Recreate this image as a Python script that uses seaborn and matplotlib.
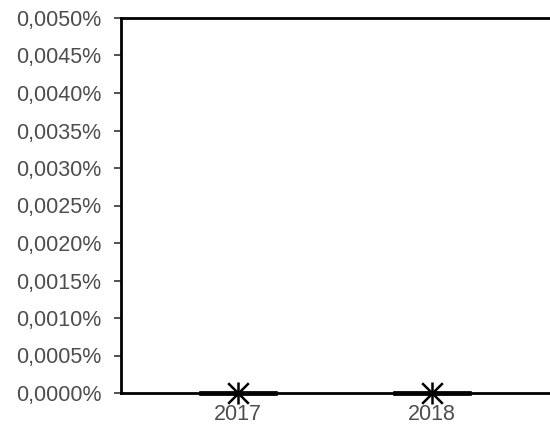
import matplotlib
matplotlib.use("Agg")
import matplotlib.pyplot as plt
import seaborn as sns
import pandas as pd
import numpy as np
from matplotlib.ticker import FuncFormatter, MultipleLocator

years = ["2017", "2017", "2017", "2018", "2018", "2018"]
values = [0.0, 0.0, 0.0, 0.0, 0.0, 0.0]  # percent
categories = ["2017", "2018"]

df = pd.DataFrame({"year": years, "value": values})

sns.set_style("white")
plt.rcParams["font.family"] = ["Liberation Sans", "DejaVu Sans"]

fig = plt.figure(figsize=(5.5, 4.3), dpi=100)
ax = fig.add_axes([121/550, 37/430, (549-121)/550, (393-18)/430])

sns.boxplot(data=df, x="year", y="value", order=categories, ax=ax, width=0.4,
            color="white", linecolor="#1a1a1a", linewidth=3.6, showcaps=False,
            showfliers=False)
for art in ax.lines + ax.patches:
    art.set_clip_on(False)
means = df.groupby("year")["value"].mean().reindex(categories)
ax.scatter(range(len(categories)), means.values, marker="x", s=220, color="black",
           linewidths=1.8, zorder=5, clip_on=False)
ax.scatter(range(len(categories)), means.values, marker="|", s=260, color="black",
           linewidths=1.8, zorder=5, clip_on=False)

ax.set_xlim(-0.6, 1.6)
ax.set_ylim(0, 0.005)
ax.yaxis.set_major_locator(MultipleLocator(0.0005))
ax.yaxis.set_major_formatter(FuncFormatter(lambda v, p: f"{v:.4f}%".replace(".", ",")))
ax.set_xlabel("")
ax.set_ylabel("")
for s in ["left", "bottom", "top"]:
    ax.spines[s].set_visible(True)
    ax.spines[s].set_color("black")
    ax.spines[s].set_linewidth(2)
ax.spines["right"].set_visible(False)
ax.tick_params(axis="y", which="major", length=5, width=1.2, color="#333333",
               labelsize=15.5, labelcolor="#4d4d4d", left=True, pad=9)
ax.tick_params(axis="x", length=0, labelsize=15.5, labelcolor="#4d4d4d", pad=8)

fig.savefig("out.png", dpi=100)
